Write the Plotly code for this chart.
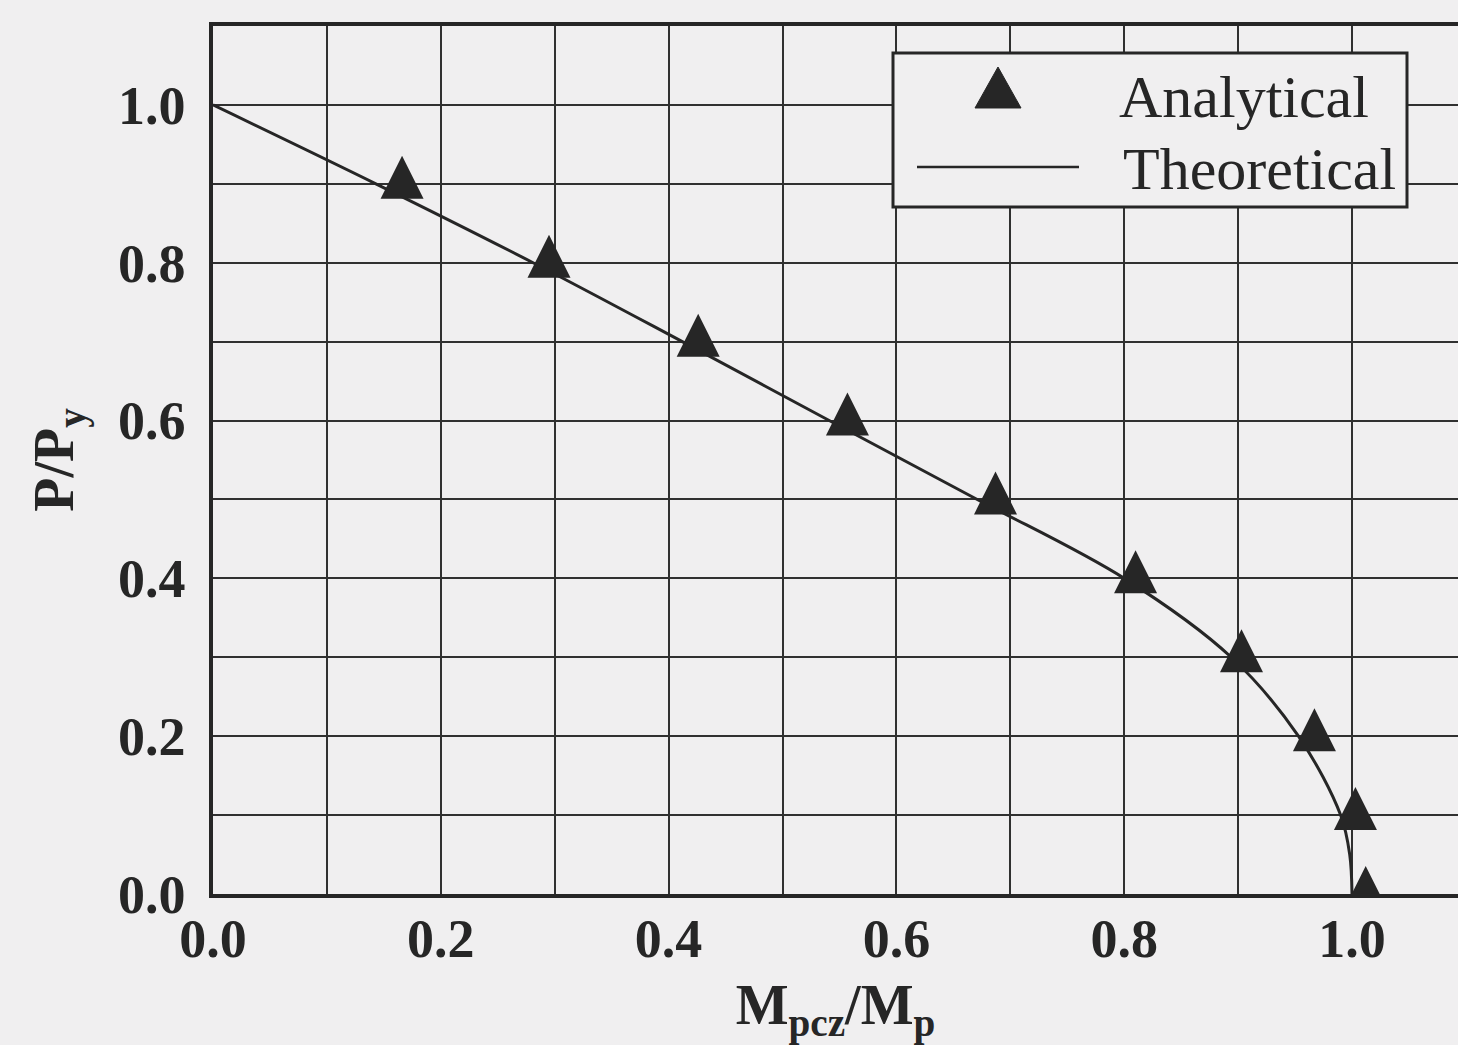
import plotly.graph_objects as go

# Analytical results (triangles)
analytical_m = [0.166, 0.295, 0.426, 0.557, 0.687, 0.810, 0.903, 0.967, 1.003, 1.012]
analytical_p = [0.9, 0.8, 0.7, 0.6, 0.5, 0.4, 0.3, 0.2, 0.1, 0.0]

# Theoretical interaction curve
theory_m = [0.0, 0.143, 0.281, 0.412, 0.541, 0.671, 0.800, 0.894, 0.953, 0.990, 0.998, 1.000]
theory_p = [1.0, 0.9, 0.8, 0.7, 0.6, 0.5, 0.4, 0.3, 0.2, 0.1, 0.05, 0.0]

# Labelled ticks every 0.2, grid every 0.1
x_tickvals = [0.0, 0.2, 0.4, 0.6, 0.8, 1.0]
x_ticktext = ["0.0", "0.2", "0.4", "0.6", "0.8", "1.0"]
y_tickvals = [0.0, 0.2, 0.4, 0.6, 0.8, 1.0]
y_ticktext = ["0.0", "0.2", "0.4", "0.6", "0.8", "1.0"]
grid_step = 0.1

legend_labels = ["Analytical", "Theoretical"]

W, H = 1458, 1045
ML, MR, MT, MB = 213, 0, 26, 151
BG = "#f0eff0"
INK = "#262626"
GRID = "#303030"
FONT = "Liberation Serif"


def px_x(p):
    return (p - ML) / (W - ML - MR)


def px_y(p):
    return (H - MB - p) / (H - MT - MB)


fig = go.Figure()

fig.add_trace(go.Scatter(
    x=theory_m, y=theory_p, mode="lines",
    line=dict(color=INK, width=3, shape="spline", smoothing=1.0),
    showlegend=False, name=legend_labels[1],
))

# Upward triangles whose centroid sits on the data point
fig.add_trace(go.Scatter(
    x=analytical_m, y=analytical_p, mode="markers",
    marker=dict(symbol="arrow-down", angle=180, size=43, color=INK,
                standoff=28, line=dict(width=0)),
    showlegend=False, name=legend_labels[0], cliponaxis=True,
))

axis_common = dict(
    showgrid=True, gridcolor=GRID, gridwidth=2.2,
    showline=True, linecolor=INK, linewidth=3.5,
    ticks="", zeroline=False, tickmode="array",
    minor=dict(dtick=grid_step, tick0=0, showgrid=True,
               gridcolor=GRID, gridwidth=2.2, ticks=""),
    tickfont=dict(family=FONT, size=54, color=INK, weight="bold"),
)

fig.update_xaxes(
    range=[0, (W - ML - MR) / 1139.0],
    tickvals=x_tickvals, ticktext=x_ticktext, mirror=True,
    ticklabelstandoff=-6,
    title=dict(text="M<sub>pcz</sub>/M<sub>p</sub>", standoff=20,
               font=dict(family=FONT, size=56, color=INK, weight="bold")),
    **axis_common,
)
fig.update_yaxes(
    range=[0, 1.1],
    tickvals=y_tickvals, ticktext=y_ticktext, mirror=False,
    ticklabelstandoff=13,
    title=dict(text="P/P<sub>y</sub>", standoff=27,
               font=dict(family=FONT, size=56, color=INK, weight="bold")),
    **axis_common,
)

# Legend box drawn by hand so the sample glyphs can be full size
shapes = [
    dict(type="rect", xref="paper", yref="paper",
         x0=px_x(893), x1=px_x(1407), y0=px_y(207), y1=px_y(53),
         line=dict(color=INK, width=3), fillcolor=BG, layer="above"),
    dict(type="path", xref="paper", yref="paper",
         path="M {:.5f},{:.5f} L {:.5f},{:.5f} L {:.5f},{:.5f} Z".format(
             px_x(975), px_y(108), px_x(1021), px_y(108), px_x(998), px_y(67)),
         line=dict(color=INK, width=1), fillcolor=INK, layer="above"),
    dict(type="line", xref="paper", yref="paper",
         x0=px_x(917), x1=px_x(1079), y0=px_y(167), y1=px_y(167),
         line=dict(color=INK, width=2.5), layer="above"),
]

annotations = [
    dict(xref="paper", yref="paper", x=px_x(1117), y=px_y(97),
         xanchor="left", yanchor="middle", showarrow=False,
         text=legend_labels[0], font=dict(family=FONT, size=60, color=INK)),
    dict(xref="paper", yref="paper", x=px_x(1121), y=px_y(169),
         xanchor="left", yanchor="middle", showarrow=False,
         text=legend_labels[1], font=dict(family=FONT, size=60, color=INK)),
]

fig.update_layout(
    width=W, height=H,
    margin=dict(l=ML, r=MR, t=MT, b=MB, autoexpand=False),
    paper_bgcolor=BG, plot_bgcolor=BG,
    shapes=shapes, annotations=annotations,
    showlegend=False,
)

fig.write_html("out.html")
